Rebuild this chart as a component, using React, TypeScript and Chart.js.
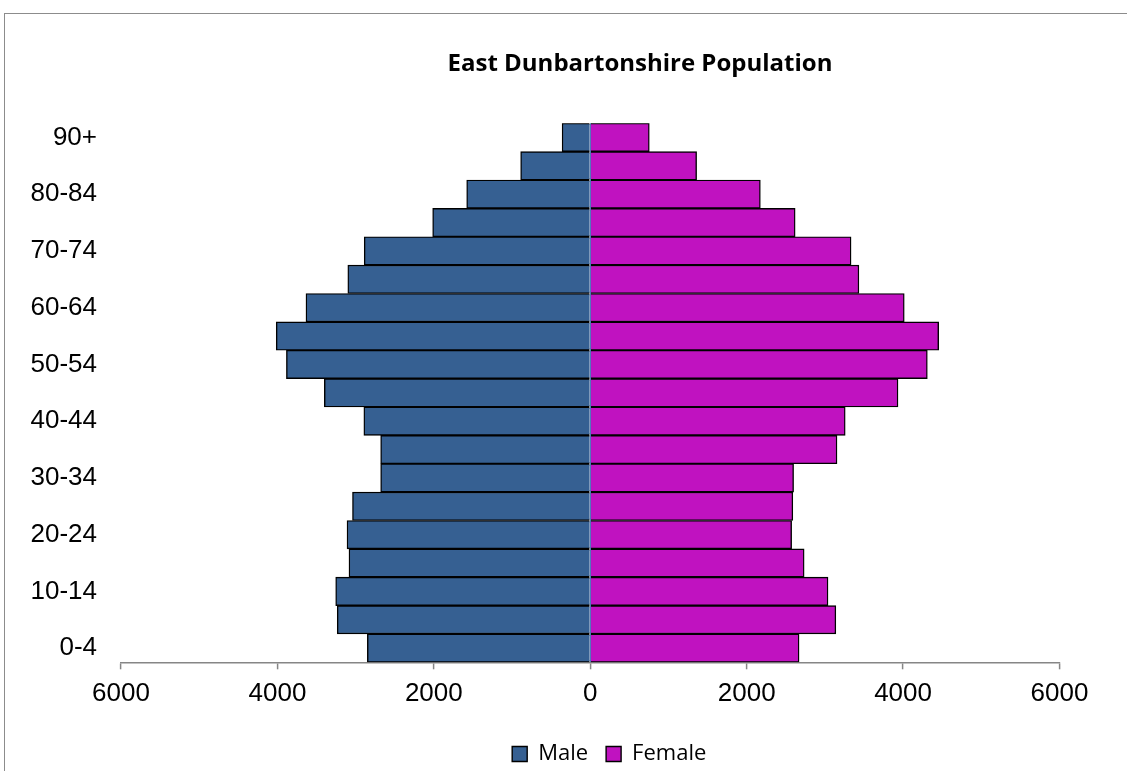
import React, { useEffect, useRef } from 'react';
import { Chart, registerables } from 'chart.js';

Chart.register(...registerables);

const ageGroups = [
  '0-4', '5-9', '10-14', '15-19', '20-24', '25-29', '30-34', '35-39', '40-44', '45-49',
  '50-54', '55-59', '60-64', '65-69', '70-74', '75-79', '80-84', '85-89', '90+',
];
const maleValues = [
  2850, 3235, 3255, 3085, 3110, 3040, 2680, 2680, 2895, 3400,
  3885, 4015, 3635, 3100, 2890, 2015, 1580, 890, 360,
];
const femaleValues = [
  2670, 3140, 3040, 2735, 2575, 2590, 2600, 3155, 3260, 3935,
  4310, 4455, 4015, 3435, 3335, 2620, 2175, 1360, 755,
];
const xMin = -6000;
const xMax = 6000;
const xStep = 2000;
const seriesNames = ['Male', 'Female'];
const chartTitle = 'East Dunbartonshire Population';

export default function App() {
  const ref = useRef<HTMLCanvasElement | null>(null);

  useEffect(() => {
    if (!ref.current) return;
    const labelFont = { family: '"Liberation Sans", Arial, sans-serif', size: 26 };
    const legendShift = {
      id: 'legendShift',
      afterLayout(chart: any) {
        const lg = chart.legend;
        if (lg) {
          lg.left += 19;
          lg.right += 19;
        }
      },
    };
    const chart = new Chart(ref.current, {
      type: 'bar',
      data: {
        labels: ageGroups,
        datasets: [
          {
            label: seriesNames[0],
            data: maleValues.map((v) => -v),
            backgroundColor: '#366092',
            borderColor: '#000000',
            borderWidth: 1.4,
            categoryPercentage: 1,
            barPercentage: 1,
          },
          {
            label: seriesNames[1],
            data: femaleValues,
            backgroundColor: '#c012c0',
            borderColor: '#000000',
            borderWidth: 1.4,
            categoryPercentage: 1,
            barPercentage: 1,
          },
        ],
      },
      plugins: [legendShift],
      options: {
        indexAxis: 'y',
        responsive: false,
        animation: false,
        layout: { padding: 0 },
        plugins: {
          title: {
            display: true,
            text: chartTitle,
            color: '#000000',
            font: { family: '"Open Sans", Lato, sans-serif', weight: 'bold', size: 24 },
            padding: { top: 35.6, bottom: 44.9 },
          },
          legend: {
            position: 'bottom',
            fullSize: false,
            labels: {
              boxWidth: 15,
              boxHeight: 15,
              color: '#000000',
              font: { family: '"Open Sans", Lato, sans-serif', size: 22 },
              padding: 18,
            },
          },
          tooltip: { enabled: false },
        },
        scales: {
          x: {
            stacked: true,
            min: xMin,
            max: xMax,
            z: 1,
            ticks: {
              stepSize: xStep,
              color: '#000000',
              font: labelFont,
              padding: 9,
              maxRotation: 0,
              callback: (v: any) => String(Math.abs(Number(v))),
            },
            grid: {
              drawOnChartArea: true,
              color: (ctx: any) => (ctx.tick && ctx.tick.value === 0 ? '#4a7ebb' : 'rgba(0,0,0,0)'),
              lineWidth: 1.2,
              tickColor: '#868686',
              tickLength: 7,
              tickWidth: 1.5,
            },
            border: { display: true, color: '#868686', width: 1.5 },
            afterFit: (scale: any) => {
              scale.height = 62.7;
            },
          },
          y: {
            stacked: true,
            reverse: true,
            grid: { display: false, drawTicks: false },
            border: { display: false },
            ticks: {
              autoSkip: false,
              padding: 24,
              color: '#000000',
              font: labelFont,
              callback: (_v: any, i: number) => (i % 2 === 0 ? ageGroups[i] : ''),
            },
            afterFit: (scale: any) => {
              scale.width = 116;
            },
          },
          yRight: {
            type: 'linear',
            position: 'right',
            display: true,
            grid: { display: false, drawTicks: false },
            border: { display: false },
            ticks: { display: false },
            afterFit: (scale: any) => {
              scale.width = 215.5;
            },
          },
        },
      },
    } as any);
    return () => chart.destroy();
  }, []);

  return (
    <div style={{ position: 'fixed', left: 0, top: 0, width: 1127, height: 771, overflow: 'hidden', background: '#ffffff' }}>
      <div
        style={{
          position: 'absolute',
          left: 4,
          top: 13,
          width: 1400,
          height: 900,
          border: '1px solid #8c8c8c',
          background: '#ffffff',
        }}
      >
        <canvas ref={ref} width={1270} height={761} style={{ position: 'absolute', left: 0, top: 0 }} />
      </div>
    </div>
  );
}
